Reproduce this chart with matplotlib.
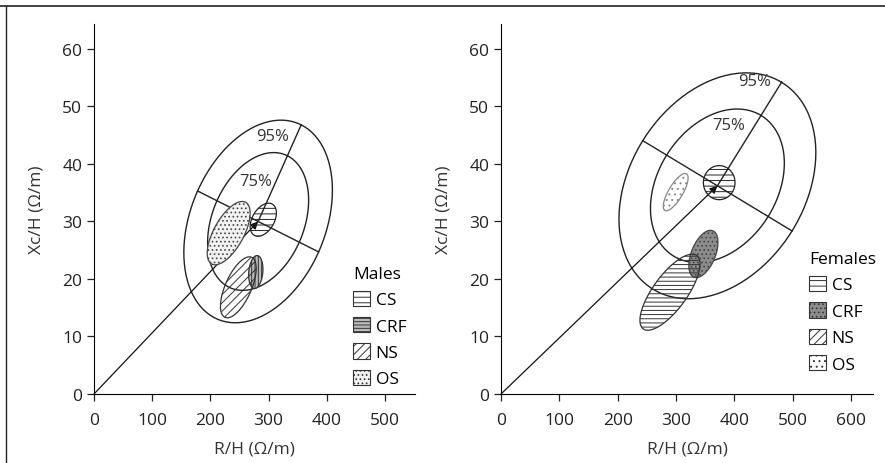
import matplotlib
matplotlib.use("Agg")
import matplotlib.pyplot as plt
import numpy as np
from matplotlib.patches import Polygon, Patch
from matplotlib.lines import Line2D

plt.rcParams["font.family"] = ["Open Sans", "DejaVu Sans"]
plt.rcParams["hatch.linewidth"] = 0.7

groups = ["CS", "CRF", "NS", "OS"]

# tolerance ellipses: mean vector and conjugate half axes (95%)
males_center = (282, 30.0)
males_major = (74, 16.8)
males_minor = (104, -5.3)
females_center = (371, 36.2)
females_major = (110, 18.0)
females_minor = (128, -7.85)
ratio_75 = 0.68
males_label_xy = [(306, 44.9), (277, 37.0)]
females_label_xy = [(435, 54.5), (390, 46.7)]

# confidence ellipses per group: centre x, centre y, major (dx, dy), minor (dx, dy)
males_cx = [290.9, 278.0, 248.0, 231.4]
males_cy = [30.3, 21.2, 18.55, 27.97]
males_a = [(15.5, 2.71), (2.6, 2.87), (22.9, 5.22), (29.2, 5.36)]
males_b = [(16.3, -0.96), (12.0, -0.11), (20.4, -0.92), (22.5, -1.26)]

females_cx = [374.1, 347.0, 289.7, 299.5]
females_cy = [36.75, 24.35, 17.7, 35.1]
females_a = [(0, 2.96), (16.2, 4.03), (45.8, 6.38), (18.5, 3.18)]
females_b = [(27.1, 0), (19.0, -0.8), (23.5, -1.74), (10.5, -0.62)]

male_xticks = [0, 100, 200, 300, 400, 500]
female_xticks = [0, 100, 200, 300, 400, 500, 600]
yticks = [0, 10, 20, 30, 40, 50, 60]


def ellipse_pts(c, a, b, s=1.0):
    t = np.linspace(0, 2 * np.pi, 200)
    x = c[0] + s * (a[0] * np.cos(t) + b[0] * np.sin(t))
    y = c[1] + s * (a[1] * np.cos(t) + b[1] * np.sin(t))
    return np.column_stack([x, y])


def draw_panel(ax, center, major, minor, label_xy, cx, cy, avec, bvec, styles,
               title, xticks, xmax, leg_pos):
    for s in (1.0, ratio_75):
        pts = ellipse_pts(center, major, minor, s)
        ax.plot(pts[:, 0], pts[:, 1], color="#222222", lw=1.0)
    # axes of the tolerance ellipse
    ax.plot([center[0], center[0] + major[0]], [center[1], center[1] + major[1]],
            color="#222222", lw=1.0)
    ax.plot([center[0] - minor[0], center[0] + minor[0]],
            [center[1] - minor[1], center[1] + minor[1]], color="#222222", lw=1.0)
    ax.annotate("", xy=center, xytext=(0, 0),
                arrowprops=dict(arrowstyle="-|>", color="#111111", lw=0.9,
                                mutation_scale=11, shrinkA=0, shrinkB=0))
    for (lx, ly), txt in zip(label_xy, ["95%", "75%"]):
        ax.text(lx, ly, txt, ha="center", va="center", fontsize=12, color="#333333")

    handles = []
    for i, g in enumerate(groups):
        fc, hatch, ec, leg_hatch = styles[i]
        pts = ellipse_pts((cx[i], cy[i]), avec[i], bvec[i])
        ax.add_patch(Polygon(pts, closed=True, facecolor=fc, edgecolor=ec,
                             hatch=hatch, lw=0.9, zorder=3))
        handles.append(Patch(facecolor=fc, edgecolor="#333333", hatch=leg_hatch, lw=0.8))

    leg = ax.legend(handles, groups, title=title, loc="upper left",
                    bbox_to_anchor=leg_pos, frameon=False, fontsize=12.5,
                    title_fontsize=12.5, handlelength=1.0, handleheight=1.0,
                    handletextpad=0.3, labelspacing=0.5, borderpad=0.0)
    leg._legend_box.align = "left"

    ax.set_xlim(0, xmax)
    ax.set_ylim(0, 64.3)
    ax.set_xticks(xticks)
    ax.set_yticks(yticks)
    ax.spines["top"].set_visible(False)
    ax.spines["right"].set_visible(False)
    ax.tick_params(labelsize=12.5, length=5, width=0.9, colors="#222222")
    ax.tick_params(axis="x", pad=8)
    ax.set_xlabel("R/H (\u03a9/m)", fontsize=12.5, color="#333333", labelpad=9)
    ax.set_ylabel("Xc/H (\u03a9/m)", fontsize=12.5, color="#333333", labelpad=13)


fig = plt.figure(figsize=(8.85, 4.64), dpi=100)
ax1 = fig.add_axes([0.1062, 0.1487, 0.3627, 0.797])
ax2 = fig.add_axes([0.5661, 0.1487, 0.4203, 0.797])

# face colour, hatch, edge colour, legend hatch
male_styles = [
    ("none", "---", "#222222", "---"),
    ("#bbbbbb", "|||||", "#333333", "-----"),
    ("none", "////", "#333333", "////"),
    ("#f2f2f2", "....", "#444444", "...."),
]
female_styles = [
    ("none", "---", "#222222", "---"),
    ("#8c8c8c", "....", "#444444", "...."),
    ("none", "----", "#333333", "////"),
    ("none", "...", "#888888", "..."),
]

draw_panel(ax1, males_center, males_major, males_minor, males_label_xy,
           males_cx, males_cy, males_a, males_b, male_styles, "Males",
           male_xticks, 551.5, (0.78, 0.37))
draw_panel(ax2, females_center, females_major, females_minor, females_label_xy,
           females_cx, females_cy, females_a, females_b, female_styles, "Females",
           female_xticks, 637.7, (0.805, 0.41))

# figure frame lines
fig.add_artist(Line2D([0, 1], [0.985, 0.985], transform=fig.transFigure, color="#222222", lw=1.2))
fig.add_artist(Line2D([0.007, 0.007], [0, 0.985], transform=fig.transFigure, color="#222222", lw=1.0))

fig.savefig("out.png", dpi=100)
